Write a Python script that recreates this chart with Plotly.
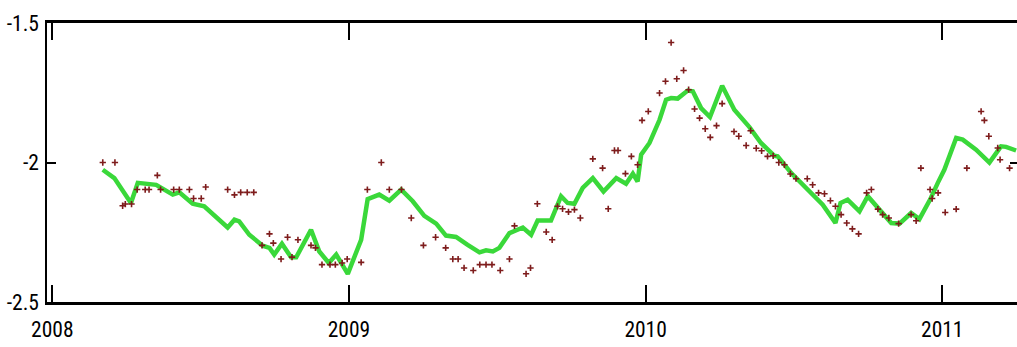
import plotly.graph_objects as go

# Observed values (decimal year, log-scale level)
obs_t = [
    2008.170, 2008.211, 2008.237, 2008.246, 2008.267, 2008.286, 2008.313, 2008.326,
    2008.354, 2008.365, 2008.409, 2008.428, 2008.462, 2008.476, 2008.502, 2008.517,
    2008.591, 2008.614, 2008.635, 2008.657, 2008.679, 2008.707, 2008.732, 2008.745,
    2008.771, 2008.793, 2008.808, 2008.828, 2008.872, 2008.887, 2008.909, 2008.936,
    2008.954, 2008.977, 2008.994, 2009.041, 2009.062, 2009.109, 2009.136, 2009.177,
    2009.210, 2009.251, 2009.292, 2009.326, 2009.350, 2009.368, 2009.388, 2009.419,
    2009.441, 2009.462, 2009.482, 2009.510, 2009.541, 2009.558, 2009.597, 2009.612,
    2009.635, 2009.665, 2009.685, 2009.703, 2009.720, 2009.740, 2009.760, 2009.780,
    2009.822, 2009.855, 2009.874, 2009.895, 2009.907, 2009.932, 2009.952, 2009.973,
    2009.988, 2010.009, 2010.047, 2010.067, 2010.086, 2010.105, 2010.128, 2010.145,
    2010.165, 2010.182, 2010.201, 2010.218, 2010.239, 2010.258, 2010.298, 2010.314,
    2010.339, 2010.354, 2010.373, 2010.391, 2010.411, 2010.430, 2010.449, 2010.468,
    2010.488, 2010.507, 2010.545, 2010.563, 2010.583, 2010.603, 2010.623, 2010.640,
    2010.659, 2010.678, 2010.697, 2010.718, 2010.745, 2010.761, 2010.783, 2010.799,
    2010.820, 2010.853, 2010.895, 2010.912, 2010.928, 2010.959, 2010.966, 2010.986,
    2011.010, 2011.047, 2011.083, 2011.131, 2011.142, 2011.157, 2011.187, 2011.195,
    2011.227,
]
obs_v = [
    -2.000, -2.000, -2.155, -2.149, -2.149, -2.097, -2.097, -2.097,
    -2.046, -2.097, -2.097, -2.097, -2.097, -2.129, -2.129, -2.088,
    -2.097, -2.116, -2.107, -2.107, -2.107, -2.297, -2.256, -2.289,
    -2.346, -2.268, -2.339, -2.277, -2.297, -2.306, -2.366, -2.366,
    -2.366, -2.360, -2.346, -2.358, -2.097, -2.000, -2.097, -2.097,
    -2.199, -2.297, -2.268, -2.306, -2.346, -2.346, -2.378, -2.387,
    -2.366, -2.366, -2.366, -2.387, -2.346, -2.227, -2.399, -2.378,
    -2.148, -2.249, -2.277, -2.157, -2.166, -2.177, -2.169, -2.199,
    -1.987, -2.020, -2.166, -1.957, -1.957, -2.040, -1.978, -2.008,
    -1.849, -1.817, -1.751, -1.709, -1.570, -1.700, -1.670, -1.739,
    -1.808, -1.841, -1.879, -1.910, -1.868, -1.789, -1.889, -1.906,
    -1.939, -1.886, -1.949, -1.958, -1.978, -1.976, -2.000, -2.008,
    -2.041, -2.058, -2.058, -2.080, -2.109, -2.112, -2.137, -2.157,
    -2.187, -2.217, -2.238, -2.256, -2.109, -2.097, -2.167, -2.187,
    -2.199, -2.219, -2.187, -2.209, -2.020, -2.097, -2.129, -2.109,
    -2.179, -2.167, -2.020, -1.817, -1.849, -1.906, -1.948, -1.990,
    -2.020,
]

# Smoothed estimate
fit_t = [
    2008.170, 2008.209, 2008.265, 2008.288, 2008.350, 2008.406, 2008.428, 2008.473,
    2008.512, 2008.591, 2008.614, 2008.630, 2008.664, 2008.709, 2008.732, 2008.748,
    2008.774, 2008.805, 2008.822, 2008.872, 2008.900, 2008.932, 2008.957, 2008.996,
    2009.041, 2009.063, 2009.102, 2009.136, 2009.176, 2009.215, 2009.254, 2009.294,
    2009.327, 2009.361, 2009.400, 2009.440, 2009.462, 2009.485, 2009.507, 2009.541,
    2009.586, 2009.614, 2009.636, 2009.681, 2009.715, 2009.737, 2009.760, 2009.788,
    2009.822, 2009.858, 2009.901, 2009.934, 2009.957, 2009.973, 2009.985, 2010.013,
    2010.047, 2010.069, 2010.086, 2010.108, 2010.142, 2010.159, 2010.187, 2010.217,
    2010.258, 2010.299, 2010.350, 2010.389, 2010.434, 2010.445, 2010.491, 2010.541,
    2010.597, 2010.640, 2010.657, 2010.681, 2010.721, 2010.749, 2010.788, 2010.828,
    2010.856, 2010.895, 2010.923, 2010.959, 2010.985, 2011.007, 2011.047, 2011.069,
    2011.114, 2011.159, 2011.198, 2011.215, 2011.249,
]
fit_v = [
    -2.026, -2.056, -2.145, -2.073, -2.080, -2.115, -2.107, -2.148,
    -2.157, -2.233, -2.205, -2.211, -2.259, -2.298, -2.306, -2.330,
    -2.291, -2.340, -2.340, -2.241, -2.319, -2.360, -2.330, -2.399,
    -2.277, -2.131, -2.115, -2.137, -2.097, -2.139, -2.191, -2.219,
    -2.262, -2.267, -2.295, -2.322, -2.315, -2.319, -2.306, -2.253,
    -2.233, -2.259, -2.208, -2.208, -2.121, -2.145, -2.148, -2.091,
    -2.056, -2.104, -2.056, -2.076, -2.040, -2.068, -1.972, -1.930,
    -1.847, -1.775, -1.769, -1.771, -1.742, -1.745, -1.805, -1.837,
    -1.725, -1.811, -1.873, -1.930, -1.976, -1.978, -2.038, -2.091,
    -2.151, -2.217, -2.145, -2.133, -2.175, -2.121, -2.169, -2.217,
    -2.219, -2.181, -2.203, -2.133, -2.073, -2.026, -1.912, -1.918,
    -1.954, -2.000, -1.942, -1.944, -1.957,
]

year_ticks = [2008, 2009, 2010, 2011]
year_labels = ["2008", "2009", "2010", "2011"]
level_ticks = [-2.5, -2.0, -1.5]
level_labels = ["-2.5", "-2", "-1.5"]

x_range = [2007.982, 2011.252]
y_range = [-2.5, -1.5]

label_font = dict(family="Roboto Condensed, Liberation Sans, Arial, sans-serif",
                  size=21.5, color="#000000")

fig = go.Figure()
fig.add_trace(go.Scatter(
    x=fit_t, y=fit_v, mode="lines",
    line=dict(color="#3ad83a", width=4.5),
    hoverinfo="skip", showlegend=False,
))
fig.add_trace(go.Scatter(
    x=obs_t, y=obs_v, mode="markers", yaxis="y2",
    marker=dict(symbol="cross-thin", size=4.5, line=dict(color="#7e1c1c", width=1.6)),
    hoverinfo="skip", showlegend=False,
))

fig.update_layout(
    width=1017, height=347,
    margin=dict(l=47, r=0, t=23, b=45),
    paper_bgcolor="white", plot_bgcolor="white",
    font=label_font,
    xaxis=dict(
        range=x_range, tickvals=year_ticks, ticktext=year_labels,
        showgrid=False, zeroline=False,
        showline=True, linecolor="black", linewidth=3, mirror="ticks",
        ticks="inside", ticklen=17, tickwidth=1.5, tickcolor="black",
        tickfont=label_font, ticklabelstandoff=6,
    ),
    yaxis=dict(
        range=y_range, tickvals=level_ticks, ticktext=level_labels,
        showgrid=False, zeroline=False,
        showline=True, linecolor="black", linewidth=1.5,
        ticks="inside", ticklen=9, tickwidth=2, tickcolor="black",
        tickfont=label_font, ticklabelstandoff=2,
    ),
    yaxis2=dict(
        range=y_range, overlaying="y", side="right",
        tickvals=level_ticks, showticklabels=False,
        showgrid=False, zeroline=False, showline=False,
        ticks="inside", ticklen=7, tickwidth=2, tickcolor="black",
    ),
)

fig.write_html("out.html")
